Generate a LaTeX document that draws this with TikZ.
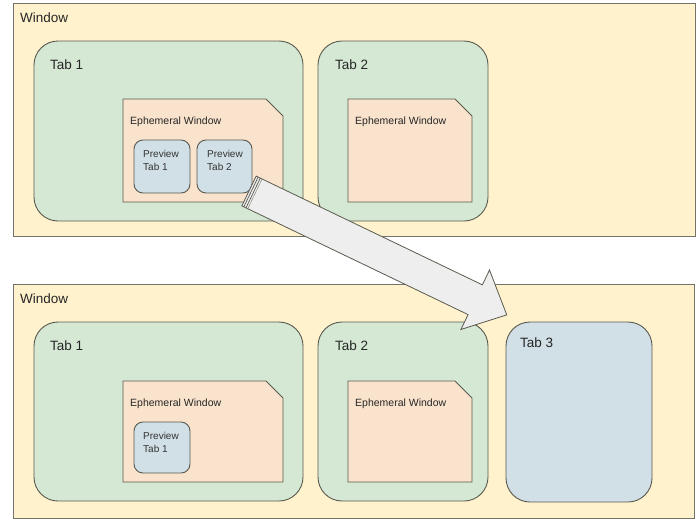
\documentclass[tikz,border=0pt]{standalone}
\usepackage{fontspec}
\setmainfont{Liberation Sans}
\definecolor{winfill}{HTML}{FFF2CC}
\definecolor{tabfill}{HTML}{D5E8D4}
\definecolor{ephfill}{HTML}{FAE3CD}
\definecolor{prevfill}{HTML}{D1DFE6}
\definecolor{arrfill}{HTML}{EEEEEE}
\definecolor{edge}{HTML}{5A5A50}
\tikzset{
  base/.style={anchor=north west, inner sep=0pt, outer sep=0pt, line width=0.9pt, draw=edge},
  win/.style={base, fill=winfill, draw=edge!85},
  tab/.style={base, fill=tabfill, rounded corners=24pt},
  tabthree/.style={base, fill=prevfill, rounded corners=24pt},
  eph/.style={line width=0.9pt, draw=edge, fill=ephfill, line join=miter},
  prev/.style={base, fill=prevfill, rounded corners=9pt},
  big/.style={anchor=west, inner sep=0pt, font=\fontsize{13.5}{16}\selectfont, text=black!85},
  small/.style={anchor=west, inner sep=0pt, font=\fontsize{10.5}{13}\selectfont, text=black!85},
  prevtxt/.style={anchor=north west, inner sep=0pt, align=left, font=\fontsize{10}{13}\selectfont, text=black!80},
  blockarrow/.style={draw=edge, fill=arrfill, line width=0.8pt, line join=miter},
}
% #1 = x0, #2 = y0, #3 = x1, #4 = y1 (chamfer 17)
\newcommand{\ephbox}[4]{%
  \draw[eph] (#1,#2) -- ({#3-17},#2) -- (#3,{#2+17}) -- (#3,#4) -- (#1,#4) -- cycle;}
\begin{document}
\begin{tikzpicture}[x=1pt, y=-1pt]
\useasboundingbox (0,0) rectangle (700,522);
% ---------- top window ----------
\node[win, minimum width=682, minimum height=233] (w1) at (13,3) {};
\node[big] (w1t) at (20,18) {Window};
\node[tab, minimum width=269, minimum height=180] (t11) at (34,41) {};
\node[big] (t11t) at (50,65) {Tab 1};
\node[tab, minimum width=170, minimum height=180] (t12) at (318,41) {};
\node[big] (t12t) at (335,65) {Tab 2};
\ephbox{123}{99}{283}{202}
\node[small] (e11t) at (130,122) {Ephemeral Window};
\node[prev, minimum width=56, minimum height=53] (p11) at (134,140) {};
\node[prevtxt] (p11t) at (143,150.5) {Preview\\Tab 1};
\node[prev, minimum width=55, minimum height=53] (p12) at (197,140) {};
\node[prevtxt] (p12t) at (207,150.5) {Preview\\Tab 2};
\ephbox{348}{99}{472}{202}
\node[small] (e12t) at (355,122) {Ephemeral Window};
% ---------- bottom window ----------
\node[win, minimum width=681, minimum height=234] (w2) at (13,284) {};
\node[big] (w2t) at (20,299) {Window};
\node[tab, minimum width=269, minimum height=179] (t21) at (34,322) {};
\node[big] (t21t) at (50,346) {Tab 1};
\node[tab, minimum width=170, minimum height=179] (t22) at (318,322) {};
\node[big] (t22t) at (335,346) {Tab 2};
\node[tabthree, minimum width=146, minimum height=180] (t23) at (506,322) {};
\node[big] (t23t) at (520,343) {Tab 3};
\ephbox{123}{381}{283}{482}
\node[small] (e21t) at (130,404) {Ephemeral Window};
\node[prev, minimum width=56, minimum height=51] (p21) at (134,422) {};
\node[prevtxt] (p21t) at (143,432) {Preview\\Tab 1};
\ephbox{348}{381}{472}{482}
\node[small] (e22t) at (355,404) {Ephemeral Window};
% ---------- block arrow ----------
\coordinate (as) at (249,191);
\coordinate (ae) at (507,315);
\begin{scope}[shift={(as)}, rotate=-25.67, x=1pt, y=1pt]
  \draw[blockarrow] (0,-16.5) -- (251,-16.5) -- (251,-33) -- (286,0) -- (251,33) -- (251,16.5) -- (0,16.5) -- cycle;
  \draw[edge, line width=0.7pt] (2.2,-16.5) -- (2.2,16.5);
  \draw[edge, line width=0.7pt] (4.6,-16.5) -- (4.6,16.5);
  \draw[edge!70, line width=0.5pt] (6.6,-16.5) -- (6.6,16.5);
\end{scope}
\end{tikzpicture}
\end{document}
